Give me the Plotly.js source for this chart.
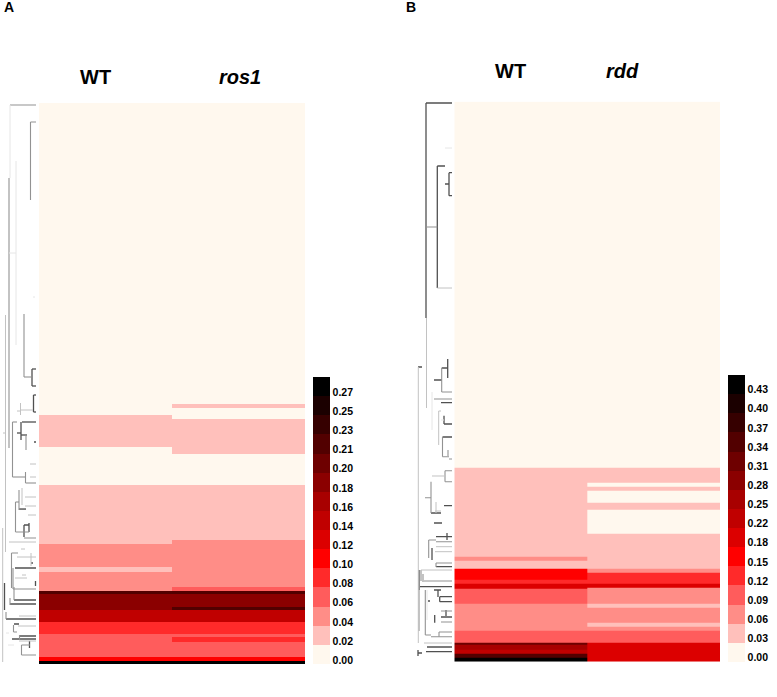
<!DOCTYPE html>
<html><head><meta charset="utf-8">
<script src="https://cdn.plot.ly/plotly-3.0.1.min.js"></script>
<style>html,body{margin:0;padding:0;background:#fff}</style></head>
<body><div id="chart" style="width:777px;height:697px"></div>
<script>
// colour classes (15 bands of each colour key, low to high)
const classColors = ['#fff8ee','#ffc0bb','#ff8d87','#ff5c5c','#ff2a2a','#ff0000','#dc0000','#c00000','#a80000','#8b0000','#6e0000','#520000','#360000','#1b0000','#000000'];
const ticksA = ['0.00','0.02','0.04','0.06','0.08','0.10','0.12','0.14','0.16','0.18','0.20','0.21','0.23','0.25','0.27'];
const ticksB = ['0.00','0.03','0.06','0.09','0.12','0.15','0.18','0.22','0.25','0.28','0.31','0.34','0.37','0.40','0.43'];

// Panel A: row boundaries and the colour class of each interval
const rowEdgesA = [0,300.7,304.7,312,316.3,344,351,382.3,437,440.7,464,468.7,484,487.7,491.3,503.7,507.3,519,530.7,534.3,538.7,554,558,561.3];
const wtA   = [0,0,0,1,1,0,0,1,1,2,1,2,2,11,9,9,7,4,3,3,3,5,14];
const ros1A = [0,1,0,0,1,1,0,1,2,2,2,2,3,11,9,11,7,4,3,4,3,5,14];

// Panel B
const rowEdgesB = [0,365.6,381.3,385.3,389.3,401,408.3,431.6,455.3,459,467,471,478.3,482.3,486.3,487,502,506,521.3,525.3,529,540.6,542.6,548.3,552.3,556,560];
const wtB  = [0,1,1,1,1,1,1,1,2,1,5,5,4,6,6,3,2,2,2,2,3,10,8,7,11,14];
const rddB = [0,1,0,1,0,1,0,1,1,1,2,4,4,6,2,2,1,2,1,2,3,6,6,6,6,6];

// Dendrogram branches: [x1,y1,x2,y2]
const treeA = {
 dark:[[22,422,36,422],[21,422,21,440],[17,433,21,433],[21,435,27,435],[34,442,36,442],[32,369,32,386],[32,369,36,369],[32,386,36,386],[33.5,395,33.5,412],[33.5,395,36,395],[33.5,412,36,412],[19,509,26,509],[29,523,29,532],[24,525,29,525],[24,525,24,537],[15,568,36,568],[31,563,33,563],[4.5,583,4.5,610],[14,600,36,600],[10,604,36,604],[6,619,36,619],[14,624,19,624],[19,636,36,636],[12,639,36,639],[29.5,641,29.5,648],[35.5,581,35.5,586]],
 mid:[[10,105,36,105],[9,178,9,448],[24,314,24,377],[24,377,31,377],[30.5,122,30.5,200],[30.5,122,36,122],[12.5,422,12.5,477],[12.5,422,17,422],[12.5,477,25.5,477],[25.5,472,25.5,483],[25.5,483,36,483],[26,435,26,450],[15.5,502,15.5,532],[15.5,502,19,502],[19,490,19,510],[15.5,532,29,532],[24,538,36,538],[11.5,553,11.5,588],[11.5,553,18,553],[13,568,13,589],[13,589,36,589],[14,587,14,600],[10,598,10,605],[6,612,6,619],[13.5,625,13.5,632],[13.5,632,17,632],[19.5,635,19.5,640],[21.5,645,21.5,655],[21.5,655,36,655],[21.5,645,30,645]],
 light:[[5.5,315,5.5,552],[2.7,528,2.7,662],[3,433,6,433],[20.5,403,20.5,415],[17,411,20,411],[20,410,33,410],[30,464,36,464],[30,477,36,477],[25,506,36,506],[22,488,22,505],[9,542,36,542],[21,549,25,549],[17,557,36,557],[15,578,27,578],[22,575,26,575],[19,616,36,616],[18,626,36,626],[19,641,36,641],[31,553,31,566],[25,497,36,497],[28,515,36,515]],
 faint:[[10,105,10,178],[9,253,16,253],[16,161,16,345],[33,297,35,297],[6,633,9,633],[8,645,14,645]]
};
const treeB = {
 dark:[[426,103,452,103],[426,103,426,318],[437.3,166,437.3,288],[437.3,166,445,166],[449,172.7,449,195.7],[449,172.7,452,172.7],[449,195.7,452,195.7],[445,184,449,184],[418,367,422,367],[447.7,359,447.7,378],[441.7,368,447.7,368],[434,380,442,380],[441,402.7,452,402.7],[444,415.7,444,424],[444,424,452,424],[442.5,437,452,437],[431,513,441,513],[444,505.7,452,505.7],[434,523,442,523],[436,536.7,452,536.7],[447,533,447,540],[432,548,432,560],[436,566.7,452,566.7],[420,586.7,452,586.7],[419,570,419,590],[434,590,441,590],[438,590,438,597],[439.7,596.7,439.7,601.7],[439.7,596.7,452,596.7],[439.7,601.7,452,601.7],[428,601,430,601],[434.7,615,434.7,622.7],[441,617,452,617],[446,610,446,616],[418,650,418,656],[418,653,422,653],[427,647,452,647],[426,651.7,452,651.7]],
 mid:[[426,227,437.3,227],[441.7,368,441.7,392],[441.7,392,452,392],[434,399,452,399],[442.5,437,442.5,456.7],[442.5,456.7,449,456.7],[448,450,448,456],[449,459,452,459],[445,470.7,445,481.7],[445,470.7,452,470.7],[445,481.7,452,481.7],[431,481.7,431,513],[425,497.7,431,497.7],[428.7,540,428.7,558],[428.7,540,436,540],[436,541.7,452,541.7],[436,563,452,563],[436,563,436,567],[421,570,421,581],[423,574,423,582],[424,581,452,581],[419,590,419,631],[425.3,590,425.3,635],[425.3,635,431,635],[439,632,439,636.7],[439,632,452,632],[431,636.7,452,636.7],[441,611,452,611],[441,622,452,622]],
 light:[[437.3,288,452,288],[426.5,318,426.5,408],[418.3,367,418.3,643],[438.7,411,438.7,445],[438.7,411,441,411],[432,476,445,476],[436,502,436,513],[435,511,441,511],[436,546.7,452,546.7],[435,551.7,452,551.7],[421,570,452,570],[424,643,452,643]],
 faint:[[445,148,452,148],[432,392,432,430],[441,420,444,420],[427,590,427,620]]
};

const shadeStyle = {dark:{color:'#505050',width:1.3},mid:{color:'#929292',width:1.1},light:{color:'#c2c2c2',width:1},faint:{color:'#e6e6e6',width:1}};
const W=777,H=697;

function colorscale(){
  const s=[],n=classColors.length;
  classColors.forEach((c,i)=>{s.push([i/n,c]);s.push([(i+1)/n,c]);});
  return s;
}
function panelHeat(edges,a,b,xa,ya,ticks,barX,barBottom,barLen){
  const z=a.map((v,i)=>[v+0.5,b[i]+0.5]);
  return {type:'heatmap',x:[0,1,2],y:edges,z:z,xaxis:xa,yaxis:ya,zmin:0,zmax:15,colorscale:colorscale(),
    xgap:0,ygap:0,hoverinfo:'z',
    colorbar:{x:barX/W,xanchor:'left',xpad:0,ypad:0,y:1-barBottom/H,yanchor:'bottom',len:barLen/H,lenmode:'fraction',
      thickness:16.5,thicknessmode:'pixels',outlinewidth:0,borderwidth:0,ticks:'',ticklen:0,
      tickmode:'array',tickvals:ticks.map((t,i)=>i+0.22),ticktext:ticks,
      tickfont:{family:'Liberation Sans, Arial, sans-serif',size:10.5,color:'#000',weight:700}}};
}
function treeTraces(tree,edge,top,xa,ya){
  return Object.keys(tree).map(k=>{
    const xs=[],ys=[];
    tree[k].forEach(s=>{xs.push(edge-s[0],edge-s[2],null);ys.push(s[1]-top,s[3]-top,null);});
    return {type:'scatter',mode:'lines',x:xs,y:ys,xaxis:xa,yaxis:ya,line:shadeStyle[k],hoverinfo:'skip',showlegend:false};
  });
}
const data=[
  ...treeTraces(treeA,39,103,'x3','y'),
  ...treeTraces(treeB,454.3,101.7,'x4','y2'),
  panelHeat(rowEdgesA,wtA,ros1A,'x','y',ticksA,312.7,664.3,287.3),
  panelHeat(rowEdgesB,wtB,rddB,'x2','y2',ticksB,727.7,661.7,287.4)
];
const hidden={visible:false,fixedrange:true,showgrid:false,zeroline:false};
const ann=(t,x,y,size)=>({text:t,x:x/W,y:1-y/H,xref:'paper',yref:'paper',xanchor:'center',yanchor:'middle',showarrow:false,
  font:{family:'Liberation Sans, Arial, sans-serif',size:size,color:'#000'}});
const layout={width:W,height:H,margin:{l:0,r:0,t:0,b:0},paper_bgcolor:'#fff',plot_bgcolor:'rgba(0,0,0,0)',showlegend:false,
  xaxis:{...hidden,domain:[39/W,305/W],range:[0,2],anchor:'y'},
  yaxis:{...hidden,domain:[1-664.3/H,1-103/H],range:[561.3,0],anchor:'x'},
  xaxis2:{...hidden,domain:[454.3/W,720/W],range:[0,2],anchor:'y2'},
  yaxis2:{...hidden,domain:[1-661.7/H,1-101.7/H],range:[560,0],anchor:'x2'},
  xaxis3:{...hidden,domain:[0,39/W],range:[39,0],anchor:'y'},
  xaxis4:{...hidden,domain:[410/W,454.3/W],range:[44.3,0],anchor:'y2'},
  annotations:[
    ann('<b>A</b>',9,7,14),ann('<b>B</b>',411,7,14),
    ann('<b>WT</b>',95,77,20),ann('<b><i>ros1</i></b>',240,77,20),
    ann('<b>WT</b>',510,71,20),ann('<b><i>rdd</i></b>',622,71,20)
  ]};
Plotly.newPlot('chart',data,layout,{staticPlot:true,displayModeBar:false});
</script></body></html>
